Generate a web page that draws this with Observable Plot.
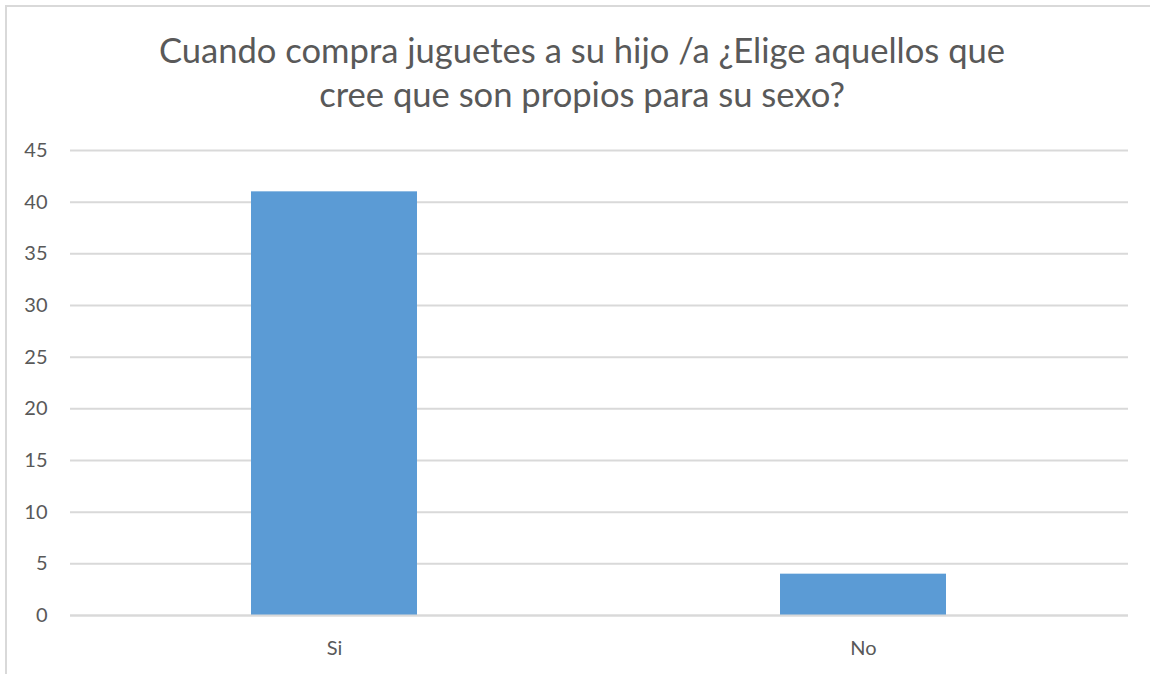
<!DOCTYPE html>
<html>
<head>
<meta charset="utf-8">
<script src="https://cdn.jsdelivr.net/npm/d3@7"></script>
<script src="https://cdn.jsdelivr.net/npm/@observablehq/plot@0.6"></script>
<style>
  html, body { margin: 0; padding: 0; background: #fff; }
  #wrap { position: relative; width: 1150px; height: 674px; overflow: hidden; font-family: Lato, "Open Sans", sans-serif; }
  #frame { position: absolute; left: 5px; top: 5px; width: 1200px; height: 700px; border-left: 2px solid #d9d9d9; border-top: 2px solid #d9d9d9; box-sizing: border-box; }
  #title { position: absolute; left: 0; top: 28px; width: 1164px; text-align: center; font-size: 34.6px; line-height: 44px; color: #595959; }
  #chart { position: absolute; left: 0; top: 130px; }
</style>
</head>
<body>
<div id="wrap">
  <div id="frame"></div>
  <div id="title">Cuando compra juguetes a su hijo /a ¿Elige aquellos que<br>cree que son propios para su sexo?</div>
  <div id="chart"></div>
</div>
<script>
const categories = ["Si", "No"];
const values = [41, 4];
const yTicks = [0, 5, 10, 15, 20, 25, 30, 35, 40, 45];

const data = categories.map((c, i) => ({category: c, value: values[i]}));

const chart = Plot.plot({
  width: 1150,
  height: 544,
  marginTop: 20,
  marginBottom: 59,
  marginLeft: 70,
  marginRight: 22,
  style: { fontFamily: "Lato, 'Open Sans', sans-serif", fontSize: "20px", color: "#595959", background: "transparent" },
  x: { domain: categories, paddingInner: 0.686, paddingOuter: 0.343, label: null, tickSize: 0, tickPadding: 25 },
  y: { domain: [0, 45], ticks: yTicks, label: null, tickSize: 0, tickPadding: 23 },
  marks: [
    Plot.gridY(yTicks, { stroke: "#d9d9d9", strokeOpacity: 1, strokeWidth: 2 }),
    Plot.barY(data, { x: "category", y: "value", fill: "#5b9bd5" }),
    Plot.ruleY([0], { stroke: "#d9d9d9", strokeWidth: 2 })
  ]
});
document.getElementById("chart").appendChild(chart);
</script>
</body>
</html>
